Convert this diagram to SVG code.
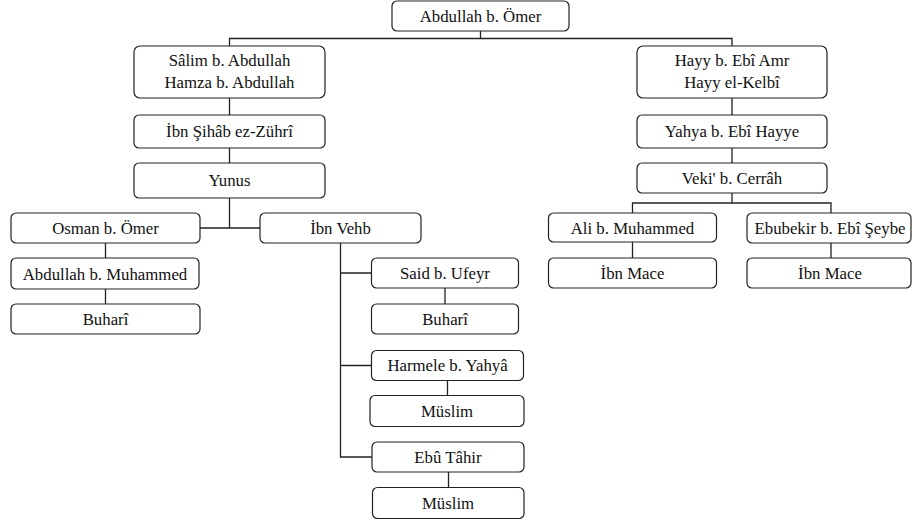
<svg xmlns="http://www.w3.org/2000/svg" width="912" height="522" viewBox="0 0 912 522">
<style>
.box{fill:#fff;stroke:#222;stroke-width:1.2}
.t{font-family:'Liberation Serif','Times New Roman',serif;font-size:16.8px;fill:#111;text-anchor:middle}
.c{fill:none;stroke:#222;stroke-width:1.3}
</style>
<rect width="912" height="522" fill="#fff"/>
<g id="connectors">
<path class="c" d="M480.5,31V38.5M229.5,46V38.5H732V46"/>
<path class="c" d="M229.5,98V115M229.5,148V163M229.5,198V228M200,228H260"/>
<path class="c" d="M105.5,243V258M105.5,289V304"/>
<path class="c" d="M340.5,243V457H372M340.5,273H371.5M340.5,365.5H371.5"/>
<path class="c" d="M445,288V304M447.5,380.5V395.5M448.5,472V487.5"/>
<path class="c" d="M732,98V115M732,148V163M732,193V203M632.5,213V203H831V213"/>
<path class="c" d="M632.5,242V258M831,243V258"/>
</g>
<g font-family="Liberation Serif, serif">
<g id="n-abdullah-omer"><rect class="box" x="392" y="1" width="177" height="30" rx="5"/><text class="t" x="480.5" y="21.5">Abdullah b. Ömer</text></g>
<g id="n-salim"><rect class="box" x="134" y="46" width="191" height="52" rx="6"/><text class="t" x="229.5" y="66">Sâlim b. Abdullah</text><text class="t" x="229.5" y="88">Hamza b. Abdullah</text></g>
<g id="n-hayy"><rect class="box" x="637" y="46" width="190" height="52" rx="6"/><text class="t" x="732" y="66">Hayy b. Ebî Amr</text><text class="t" x="732" y="88">Hayy el-Kelbî</text></g>
<g id="n-sihab"><rect class="box" x="134" y="115" width="191" height="33" rx="5"/><text class="t" x="229.5" y="137">İbn Şihâb ez-Zührî</text></g>
<g id="n-yunus"><rect class="box" x="134" y="163" width="191" height="35" rx="5"/><text class="t" x="229.5" y="186">Yunus</text></g>
<g id="n-yahya"><rect class="box" x="637" y="115" width="190" height="33" rx="5"/><text class="t" x="732" y="137">Yahya b. Ebî Hayye</text></g>
<g id="n-veki"><rect class="box" x="637" y="163" width="190" height="30" rx="5"/><text class="t" x="732" y="184">Veki' b. Cerrâh</text></g>
<g id="n-osman"><rect class="box" x="11" y="213" width="189" height="30" rx="5"/><text class="t" x="105.5" y="234">Osman b. Ömer</text></g>
<g id="n-ibnvehb"><rect class="box" x="260" y="213" width="161" height="30" rx="5"/><text class="t" x="340.5" y="234">İbn Vehb</text></g>
<g id="n-abdmuh"><rect class="box" x="11" y="258" width="188" height="31" rx="5"/><text class="t" x="105" y="279.5">Abdullah b. Muhammed</text></g>
<g id="n-buhari1"><rect class="box" x="11" y="304" width="189" height="30" rx="5"/><text class="t" x="105.5" y="325">Buharî</text></g>
<g id="n-said"><rect class="box" x="371.5" y="258" width="147" height="30" rx="5"/><text class="t" x="445" y="279">Said b. Ufeyr</text></g>
<g id="n-buhari2"><rect class="box" x="371.5" y="304" width="147" height="30" rx="5"/><text class="t" x="445" y="325">Buharî</text></g>
<g id="n-harmele"><rect class="box" x="371.5" y="350.5" width="152" height="30" rx="5"/><text class="t" x="447.5" y="371">Harmele b. Yahyâ</text></g>
<g id="n-muslim1"><rect class="box" x="370" y="395.5" width="154" height="31" rx="5"/><text class="t" x="447" y="416.5">Müslim</text></g>
<g id="n-ebutahir"><rect class="box" x="372" y="442" width="152" height="30" rx="5"/><text class="t" x="448" y="462.5">Ebû Tâhir</text></g>
<g id="n-muslim2"><rect class="box" x="372.5" y="487.5" width="151.5" height="31" rx="5"/><text class="t" x="448" y="508.5">Müslim</text></g>
<g id="n-ali"><rect class="box" x="548.5" y="213" width="168" height="29" rx="5"/><text class="t" x="632.5" y="233.5">Ali b. Muhammed</text></g>
<g id="n-ebubekir"><rect class="box" x="747" y="213" width="164" height="30" rx="5"/><text class="t" x="830" y="234">Ebubekir b. Ebî Şeybe</text></g>
<g id="n-ibnmace1"><rect class="box" x="548.5" y="258" width="168" height="30" rx="5"/><text class="t" x="632.5" y="278.5">İbn Mace</text></g>
<g id="n-ibnmace2"><rect class="box" x="747" y="258" width="164" height="30" rx="5"/><text class="t" x="830" y="278.5">İbn Mace</text></g>
</g>
</svg>
